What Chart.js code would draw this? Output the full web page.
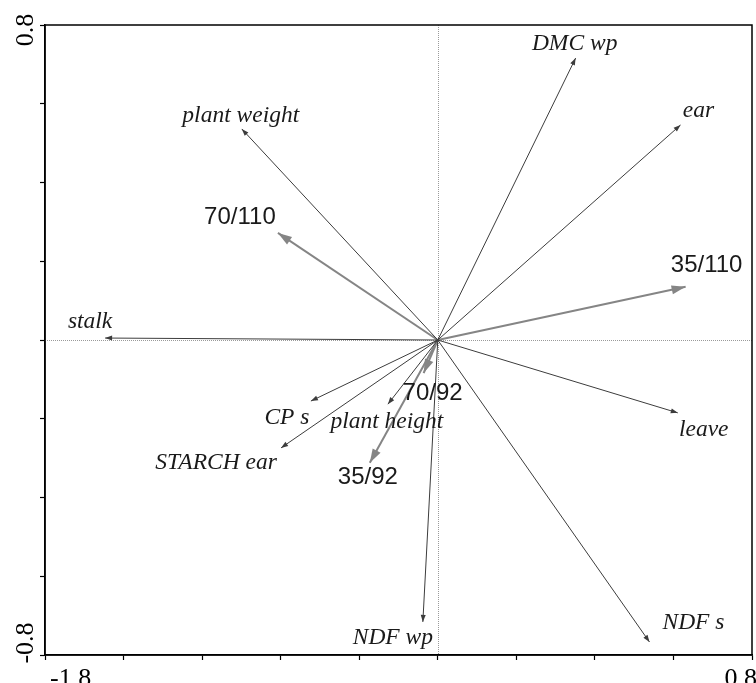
<!DOCTYPE html>
<html>
<head>
<meta charset="utf-8">
<script src="https://cdn.jsdelivr.net/npm/chart.js@4/dist/chart.umd.min.js"></script>
<style>
  html, body { margin: 0; padding: 0; background: #fff; }
</style>
</head>
<body>
<canvas id="biplot" width="756" height="683"></canvas>
<script>
// trait vectors (thin black arrows)
const traitNames = ['DMC wp', 'ear', 'plant weight', 'stalk', 'CP s', 'STARCH ear', 'plant height', 'NDF wp', 'NDF s', 'leave'];
const traitX = [0.351, 0.618, -0.499, -0.847, -0.323, -0.399, -0.127, -0.038, 0.539, 0.611];
const traitY = [0.716, 0.546, 0.536, 0.005, -0.155, -0.274, -0.163, -0.716, -0.767, -0.185];

// treatment vectors (thick grey arrows)
const groupNames = ['70/110', '35/110', '70/92', '35/92'];
const groupX = [-0.407, 0.631, -0.036, -0.173];
const groupY = [0.272, 0.135, -0.084, -0.312];

// end labels printed on the axes
const xTickLabels = ['-1.8', '0.8'];
const yTickLabels = ['0.8', '-0.8'];

// where each label sits relative to its arrow tip (px)
const labelOffset = {
  'DMC wp': [-1, -14], 'ear': [18, -14], 'plant weight': [-1, -13], 'stalk': [-15, -16],
  'CP s': [-24, 17], 'STARCH ear': [-65, 15], 'plant height': [-1, 18], 'NDF wp': [-30, 16],
  'NDF s': [44, -19], 'leave': [26, 17],
  '70/110': [-38, -16], '35/110': [21, -21], '70/92': [9, 20], '35/92': [-2, 15]
};

const traitColor = '#3c3c3c';
const groupColor = '#858585';

const datasets = [];
traitNames.forEach((n, i) => {
  datasets.push({
    label: n, kind: 'trait',
    data: [{x: 0, y: 0}, {x: traitX[i], y: traitY[i]}],
    showLine: true, borderColor: traitColor, borderWidth: 1, pointRadius: 0
  });
});
groupNames.forEach((n, i) => {
  datasets.push({
    label: n, kind: 'group',
    data: [{x: 0, y: 0}, {x: groupX[i], y: groupY[i]}],
    showLine: true, borderColor: groupColor, borderWidth: 2, pointRadius: 0
  });
});

function head(ctx, x0, y0, x1, y1, len, hw, color) {
  const a = Math.atan2(y1 - y0, x1 - x0);
  ctx.save();
  ctx.translate(x1, y1);
  ctx.rotate(a);
  ctx.beginPath();
  ctx.moveTo(0, 0);
  ctx.lineTo(-len, hw);
  ctx.lineTo(-len, -hw);
  ctx.closePath();
  ctx.fillStyle = color;
  ctx.fill();
  ctx.restore();
}

const biplotDecor = {
  id: 'biplotDecor',
  beforeDatasetsDraw(chart) {
    const {ctx, chartArea: a, scales: {x, y}} = chart;
    ctx.save();
    ctx.strokeStyle = '#9a9a9a';
    ctx.lineWidth = 1;
    ctx.setLineDash([1, 1]);
    const x0 = Math.round(x.getPixelForValue(0)) + 0.5;
    const y0 = Math.round(y.getPixelForValue(0)) + 0.5;
    ctx.beginPath();
    ctx.moveTo(x0, a.top); ctx.lineTo(x0, a.bottom);
    ctx.moveTo(a.left, y0); ctx.lineTo(a.right, y0);
    ctx.stroke();
    ctx.restore();
  },
  afterDatasetsDraw(chart) {
    const {ctx, chartArea: a, scales: {x, y}} = chart;
    const ox = x.getPixelForValue(0), oy = y.getPixelForValue(0);
    ctx.save();
    // arrow heads
    chart.data.datasets.forEach(ds => {
      const p = ds.data[1];
      const px = x.getPixelForValue(p.x), py = y.getPixelForValue(p.y);
      if (ds.kind === 'trait') head(ctx, ox, oy, px, py, 7, 2.5, traitColor);
      else head(ctx, ox, oy, px, py, 14, 4.5, groupColor);
    });
    // labels
    ctx.textAlign = 'center';
    ctx.textBaseline = 'middle';
    chart.data.datasets.forEach(ds => {
      const p = ds.data[1];
      const off = labelOffset[ds.label];
      const px = x.getPixelForValue(p.x) + off[0], py = y.getPixelForValue(p.y) + off[1];
      if (ds.kind === 'trait') {
        ctx.font = 'italic 23.5px "Liberation Serif", "Times New Roman", serif';
        ctx.fillStyle = '#1a1a1a';
      } else {
        ctx.font = '24px "Liberation Sans", Arial, sans-serif';
        ctx.fillStyle = '#1a1a1a';
      }
      ctx.fillText(ds.label, px, py);
    });
    // frame
    ctx.strokeStyle = '#000';
    ctx.lineWidth = 1.5;
    ctx.strokeRect(a.left, a.top, a.right - a.left, a.bottom - a.top);
    // axis end labels
    ctx.fillStyle = '#000';
    ctx.font = '26px "Liberation Serif", "Times New Roman", serif';
    ctx.textBaseline = 'alphabetic';
    ctx.textAlign = 'left';
    ctx.fillText(xTickLabels[0], x.getPixelForValue(x.min) + 5, 686);
    ctx.textAlign = 'right';
    ctx.fillText(xTickLabels[1], x.getPixelForValue(x.max) + 5, 686);
    ctx.textAlign = 'center';
    [[yTickLabels[0], y.getPixelForValue(y.max) + 5], [yTickLabels[1], y.getPixelForValue(y.min) - 12]].forEach(([t, py]) => {
      ctx.save();
      ctx.translate(33, py);
      ctx.rotate(-Math.PI / 2);
      ctx.fillText(t, 0, 0);
      ctx.restore();
    });
    ctx.restore();
  }
};

const axisOpts = (min, max) => ({
  type: 'linear', min: min, max: max,
  ticks: {display: false, stepSize: 0.2},
  grid: {drawOnChartArea: false, drawTicks: true, tickLength: 5, tickColor: '#000', tickWidth: 1.2},
  border: {display: true, color: '#000', width: 1.5}
});

new Chart(document.getElementById('biplot'), {
  type: 'scatter',
  data: {datasets: datasets},
  options: {
    responsive: false,
    animation: false,
    devicePixelRatio: 1,
    layout: {padding: {left: 40, right: 4, top: 25, bottom: 23}},
    plugins: {legend: {display: false}, tooltip: {enabled: false}},
    scales: {
      x: axisOpts(-1.0, 0.8),
      y: axisOpts(-0.8, 0.8)
    }
  },
  plugins: [biplotDecor]
});
</script>
</body>
</html>
